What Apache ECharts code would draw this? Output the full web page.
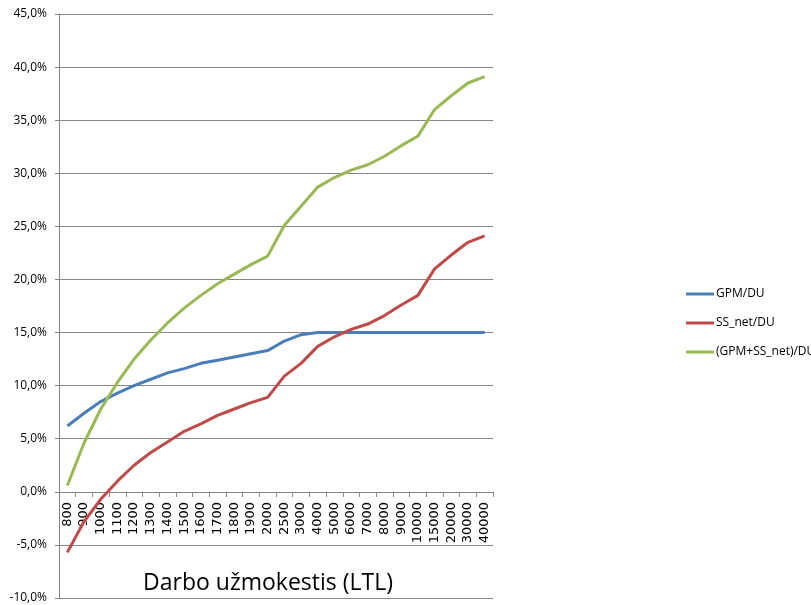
<!DOCTYPE html>
<html>
<head>
<meta charset="utf-8">
<script src="https://cdn.jsdelivr.net/npm/echarts@6/dist/echarts.min.js"></script>
<style>
  html, body { margin: 0; padding: 0; background: #fff; }
  #chart { width: 811px; height: 605px; }
</style>
</head>
<body>
<div id="chart"></div>
<script>
// 工资档次（类别轴）
const categories = ['800','900','1000','1100','1200','1300','1400','1500','1600','1700','1800','1900','2000',
    '2500','3000','4000','5000','6000','7000','8000','9000','10000','15000','20000','30000','40000'];

// 各序列数值（%）
const gpmDu = [6.2, 7.4, 8.5, 9.3, 10.0, 10.6, 11.2, 11.6, 12.1, 12.4, 12.7, 13.0, 13.3,
    14.2, 14.8, 15.0, 15.0, 15.0, 15.0, 15.0, 15.0, 15.0, 15.0, 15.0, 15.0, 15.0];
const ssNetDu = [-5.7, -2.8, -0.7, 1.0, 2.5, 3.7, 4.7, 5.7, 6.4, 7.2, 7.8, 8.4, 8.9,
    10.9, 12.1, 13.7, 14.6, 15.3, 15.8, 16.6, 17.6, 18.5, 21.0, 22.3, 23.5, 24.1];
const sumDu = [0.6, 4.6, 7.8, 10.3, 12.5, 14.3, 15.9, 17.3, 18.5, 19.6, 20.5, 21.4, 22.2,
    25.1, 26.9, 28.7, 29.6, 30.3, 30.8, 31.6, 32.6, 33.5, 36.0, 37.3, 38.5, 39.1];

const seriesNames = ['GPM/DU', 'SS_net/DU', '(GPM+SS_net)/DU'];
const colors = ['#4a7ebb', '#be4b48', '#98b954'];

const chart = echarts.init(document.getElementById('chart'));
const font = '"Open Sans", "DejaVu Sans", sans-serif';

function lineSeries(name, data, color) {
    return {
        name: name,
        type: 'line',
        data: data,
        showSymbol: false,
        symbol: 'none',
        lineStyle: { color: color, width: 3 },
        itemStyle: { color: color },
        animation: false
    };
}

chart.setOption({
    animation: false,
    // 网格固定，不随标签压缩
    grid: {
        left: 59, right: 318, top: 14, bottom: 7, containLabel: false,
        outerBoundsMode: 'auto',
        outerBounds: { left: -200, top: -200, width: 1211, height: 1005 }
    },
    legend: {
        orient: 'vertical',
        left: 681,
        top: 283,
        itemWidth: 28,
        itemHeight: 3,
        itemGap: 17,
        icon: 'rect',
        textStyle: { fontFamily: font, fontSize: 12, color: '#000', padding: [0, 0, 0, -3] },
        data: seriesNames
    },
    xAxis: {
        type: 'category',
        data: categories,
        boundaryGap: true,
        position: 'bottom',
        // 把类别轴上移到 0% 处（-10%..0% 共 10 个百分点）
        offset: -106,
        axisLine: { onZero: false, lineStyle: { color: '#868686', width: 1 } },
        axisTick: { show: true, interval: 0, length: 5, lineStyle: { color: '#868686' } },
        axisLabel: { interval: 0, rotate: 90, margin: 10, fontFamily: '"DejaVu Sans", sans-serif', fontSize: 13, color: '#000' },
        name: 'Darbo užmokestis (LTL)',
        nameLocation: 'middle',
        nameGap: 80,
        nameTextStyle: { fontFamily: font, fontSize: 23, color: '#000', padding: [0, 16, 0, 0] }
    },
    yAxis: {
        type: 'value',
        min: -10,
        max: 45,
        interval: 5,
        axisLine: { show: true, lineStyle: { color: '#868686' } },
        axisTick: { show: true, length: 4, lineStyle: { color: '#868686' } },
        splitLine: { show: true, lineStyle: { color: '#868686', width: 1 } },
        axisLabel: {
            fontFamily: font, fontSize: 12, color: '#000', margin: 12,
            formatter: v => v.toFixed(1).replace('.', ',') + '%'
        }
    },
    series: [
        lineSeries(seriesNames[0], gpmDu, colors[0]),
        lineSeries(seriesNames[1], ssNetDu, colors[1]),
        lineSeries(seriesNames[2], sumDu, colors[2])
    ]
});
</script>
</body>
</html>
